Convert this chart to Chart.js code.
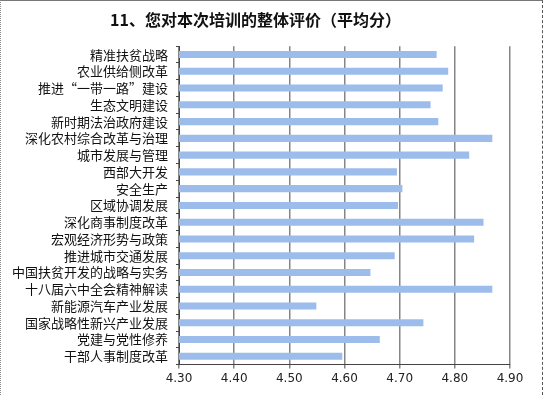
<!DOCTYPE html>
<html>
<head>
<meta charset="utf-8">
<script src="https://cdn.jsdelivr.net/npm/chart.js@4"></script>
<style>
  html, body { margin: 0; padding: 0; background: #fff; }
  #box {
    width: 543px; height: 395px; box-sizing: border-box;
    border-top: 1px solid #777; border-left: 1px dotted #888; border-right: 1px dashed #555;
  }
</style>
</head>
<body>
<div id="box"><canvas id="rateChart"></canvas></div>
<script>
// categories, top to bottom
const topics = [
  '精准扶贫战略', '农业供给侧改革', '推进“一带一路”建设', '生态文明建设',
  '新时期法治政府建设', '深化农村综合改革与治理', '城市发展与管理', '西部大开发',
  '安全生产', '区域协调发展', '深化商事制度改革', '宏观经济形势与政策',
  '推进城市交通发展', '中国扶贫开发的战略与实务', '十八届六中全会精神解读',
  '新能源汽车产业发展', '国家战略性新兴产业发展', '党建与党性修养', '干部人事制度改革'
]
// average score for each topic
const scores = [
  4.767, 4.788, 4.778, 4.756, 4.770, 4.868, 4.826, 4.695, 4.705, 4.697,
  4.852, 4.835, 4.691, 4.647, 4.868, 4.549, 4.743, 4.664, 4.596
]
const xMin = 4.3
const xMax = 4.9
const xStep = 0.1

drawRateChart('rateChart')

function drawRateChart(id) {

  const data = {
    labels: topics,
    datasets: [
      {
        data: scores,
        backgroundColor: '#9cbcec',
        borderWidth: 0,
        categoryPercentage: 1,
        barPercentage: 0.42
      }
    ]
  }

  const options = {
    indexAxis: 'y',
    responsive: true,
    maintainAspectRatio: false,
    animation: false,
    layout: { padding: { left: 0, right: 32, bottom: 6 } },
    plugins: {
      legend: { display: false },
      tooltip: { enabled: false },
      title: {
        display: true,
        text: '11、您对本次培训的整体评价（平均分）',
        color: '#111',
        font: { family: 'Noto Sans CJK SC', size: 16, weight: 'bold' },
        padding: { top: 9, bottom: 17 }
      }
    },
    scales: {
      x: {
        min: xMin,
        max: xMax,
        ticks: {
          stepSize: xStep,
          color: '#222',
          padding: 3,
          font: { family: 'DejaVu Sans', size: 12 },
          callback: v => v.toFixed(2)
        },
        border: { color: '#444', width: 1 },
        grid: {
          display: true,
          drawOnChartArea: true,
          color: '#858585',
          lineWidth: 1.5,
          tickLength: 4
        }
      },
      y: {
        ticks: {
          color: '#111',
          padding: 8,
          autoSkip: false,
          font: { family: 'Noto Sans CJK SC', size: 13 }
        },
        border: { color: '#444', width: 1 },
        grid: { drawOnChartArea: false, tickLength: 3, color: '#444' },
        afterFit: scale => { scale.width = 178 }
      }
    }
  }

  new Chart(id, { type: 'bar', data, options })
}
</script>
</body>
</html>
